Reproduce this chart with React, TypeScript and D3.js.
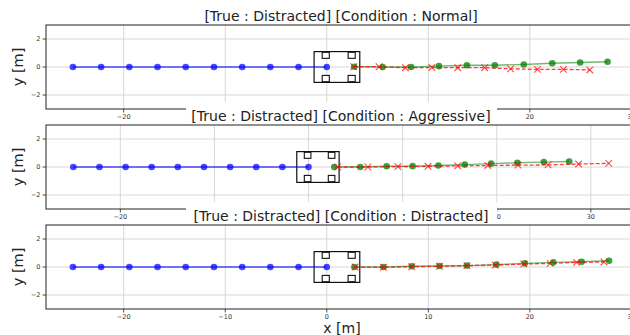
import React from "react";
import * as d3 from "d3";

const titles = [
  "[True : Distracted] [Condition : Normal]",
  "[True : Distracted] [Condition : Aggressive]",
  "[True : Distracted] [Condition : Distracted]",
];

const histX = [-25, -22.22, -19.44, -16.67, -13.89, -11.11, -8.33, -5.56, -2.78, 0];
const histY = [0, 0, 0, 0, 0, 0, 0, 0, 0, 0];

const trueX1 = [2.7, 5.5, 8.3, 11.05, 13.8, 16.55, 19.4, 22.2, 24.95, 27.65];
const trueY1 = [0.02, 0, 0, 0.06, 0.12, 0.13, 0.18, 0.27, 0.32, 0.37];
const predX1 = [2.65, 5.15, 7.75, 10.35, 12.9, 15.55, 18.1, 20.75, 23.3, 25.9];
const predY1 = [0.02, 0.02, -0.05, -0.04, -0.05, -0.05, -0.13, -0.17, -0.17, -0.21];

const trueX2 = [2.73, 5.5, 8.3, 11.06, 13.8, 16.6, 19.4, 22.2, 25.0, 27.7];
const trueY2 = [0, 0, 0.05, 0.06, 0.11, 0.17, 0.24, 0.3, 0.35, 0.39];
const predX2 = [3.1, 6.3, 9.5, 12.7, 15.85, 19.05, 22.25, 25.45, 28.7, 31.9];
const predY2 = [0, 0, 0.03, 0.05, 0.08, 0.11, 0.13, 0.15, 0.21, 0.26];

const trueX3 = [2.72, 5.58, 8.37, 11.1, 13.8, 16.7, 19.5, 22.3, 25.1, 27.8];
const trueY3 = [0, 0, 0.05, 0.07, 0.1, 0.17, 0.26, 0.33, 0.38, 0.45];
const predX3 = [2.79, 5.58, 8.36, 11.1, 13.8, 16.6, 19.4, 22.0, 24.6, 27.3];
const predY3 = [0, -0.02, 0.02, 0.05, 0.1, 0.14, 0.21, 0.26, 0.33, 0.36];

const xDomains = [
  [-27.65, 30.45],
  [-27.9, 34.8],
  [-27.65, 30.45],
];
const yDomain = [-3, 3];
const xTicks = [-20, -10, 0, 10, 20, 30];
const yTicks = [-2, 0, 2];

const carX = [-1.25, 3.25];
const carY = [-1.1, 1.1];
const wheelXs = [
  [-0.45, 0.25],
  [2.1, 2.8],
];
const wheelYs = [
  [0.62, 1.05],
  [-1.05, -0.6],
];

const panels = [
  { tx: trueX1, ty: trueY1, px: predX1, py: predY1 },
  { tx: trueX2, ty: trueY2, px: predX2, py: predY2 },
  { tx: trueX3, ty: trueY3, px: predX3, py: predY3 },
];

const W = 630;
const H = 335;
const LEFT = 46;
const RIGHT = 636;
const TOPS = [25, 125, 225];
const PH = 84;
const BOX_L = 186;
const BOX_R = 497;
const FONT = "DejaVu Sans, sans-serif";
const fmt = (v: number) => (v < 0 ? "\u2212" + Math.abs(v) : String(v));

function Panel({ i }: { i: number }) {
  const top = TOPS[i];
  const bottom = top + PH;
  const x = d3.scaleLinear().domain(xDomains[i]).range([LEFT, RIGHT]);
  const y = d3.scaleLinear().domain(yDomain).range([bottom, top]);
  const p = panels[i];
  const line = d3
    .line<[number, number]>()
    .x((d) => x(d[0]))
    .y((d) => y(d[1]));
  const hist: [number, number][] = histX.map((v, k) => [v, histY[k]]);
  const tru: [number, number][] = p.tx.map((v, k) => [v, p.ty[k]]);
  const pred: [number, number][] = p.px.map((v, k) => [v, p.py[k]]);
  const ms = 3.3;
  // tick labels fully hidden beneath the next panel's title box are not drawn
  const hiddenByNext = (t: number) => i < 2 && x(t) > BOX_L - 4 && x(t) < BOX_R - 1;
  return (
    <g>
      {i > 0 && (
        <rect x={BOX_L} y={top - 23} width={BOX_R - BOX_L} height={25} fill="white" />
      )}
      <text
        x={(LEFT + RIGHT) / 2}
        y={top - 4}
        textAnchor="middle"
        fontFamily={FONT}
        fontSize={14}
        fill="#222"
      >
        {titles[i]}
      </text>
      <defs>
        <clipPath id={"clip" + i}>
          <rect x={LEFT} y={top} width={RIGHT - LEFT} height={PH} />
        </clipPath>
      </defs>
      <g clipPath={`url(#clip${i})`}>
        {xTicks.map((t) => (
          <line key={"gx" + t} x1={x(t)} x2={x(t)} y1={top} y2={bottom} stroke="#d4d4d4" strokeWidth={0.9} />
        ))}
        {yTicks.map((t) => (
          <line key={"gy" + t} x1={LEFT} x2={RIGHT} y1={y(t)} y2={y(t)} stroke="#d4d4d4" strokeWidth={0.9} />
        ))}
        <rect
          x={x(carX[0])}
          y={y(carY[1])}
          width={x(carX[1]) - x(carX[0])}
          height={y(carY[0]) - y(carY[1])}
          fill="none"
          stroke="#111"
          strokeWidth={1.2}
        />
        {wheelXs.map((wx, a) =>
          wheelYs.map((wy, b) => (
            <rect
              key={"w" + a + b}
              x={x(wx[0])}
              y={y(wy[1])}
              width={x(wx[1]) - x(wx[0])}
              height={y(wy[0]) - y(wy[1])}
              fill="white"
              stroke="#111"
              strokeWidth={1.1}
            />
          ))
        )}
        <path d={line(hist) || ""} fill="none" stroke="blue" strokeOpacity={0.7} strokeWidth={1.3} />
        {hist.map((d, k) => (
          <circle key={"h" + k} cx={x(d[0])} cy={y(d[1])} r={ms} fill="blue" fillOpacity={0.72} />
        ))}
        <path d={line(tru) || ""} fill="none" stroke="green" strokeOpacity={0.55} strokeWidth={1.4} />
        {tru.map((d, k) => (
          <circle key={"t" + k} cx={x(d[0])} cy={y(d[1])} r={ms} fill="green" fillOpacity={0.75} />
        ))}
        <path
          d={line(pred) || ""}
          fill="none"
          stroke="red"
          strokeOpacity={0.75}
          strokeWidth={1.3}
          strokeDasharray="4,2"
        />
        {pred.map((d, k) => {
          const cx = x(d[0]);
          const cy = y(d[1]);
          const s = 3.3;
          return (
            <path
              key={"p" + k}
              d={`M${cx - s},${cy - s}L${cx + s},${cy + s}M${cx - s},${cy + s}L${cx + s},${cy - s}`}
              stroke="red"
              strokeOpacity={0.7}
              strokeWidth={1.1}
              fill="none"
            />
          );
        })}
      </g>
      <rect x={LEFT} y={top} width={RIGHT - LEFT} height={PH} fill="none" stroke="#222" strokeWidth={1} />
      {xTicks.map((t) => (
        <g key={"xt" + t}>
          <line x1={x(t)} x2={x(t)} y1={bottom} y2={bottom + 3.5} stroke="#222" strokeWidth={0.8} />
          {!hiddenByNext(t) && (
            <text
              x={x(t)}
              y={bottom + 10}
              textAnchor="middle"
              fontFamily={FONT}
              fontSize={6.5}
              fill="#333"
            >
              {fmt(t)}
            </text>
          )}
        </g>
      ))}
      {yTicks.map((t) => (
        <g key={"yt" + t}>
          <line x1={LEFT - 3.5} x2={LEFT} y1={y(t)} y2={y(t)} stroke="#222" strokeWidth={0.8} />
          <text
            x={LEFT - 5.5}
            y={y(t)}
            dy="0.35em"
            textAnchor="end"
            fontFamily={FONT}
            fontSize={6.5}
            fill="#333"
          >
            {fmt(t)}
          </text>
        </g>
      ))}
      <text
        transform={`translate(23,${(top + bottom) / 2}) rotate(-90)`}
        textAnchor="middle"
        fontFamily={FONT}
        fontSize={14.5}
        fill="#222"
      >
        y [m]
      </text>
    </g>
  );
}

export default function App() {
  return (
    <div style={{ position: "fixed", left: 0, top: 0, width: W, height: H, background: "white" }}>
      <svg width={W} height={H} style={{ display: "block" }}>
        <rect width={W} height={H} fill="white" />
        {[0, 1, 2].map((i) => (
          <Panel key={i} i={i} />
        ))}
        <text x={342} y={333} textAnchor="middle" fontFamily={FONT} fontSize={14} fill="#222">
          x [m]
        </text>
      </svg>
    </div>
  );
}
